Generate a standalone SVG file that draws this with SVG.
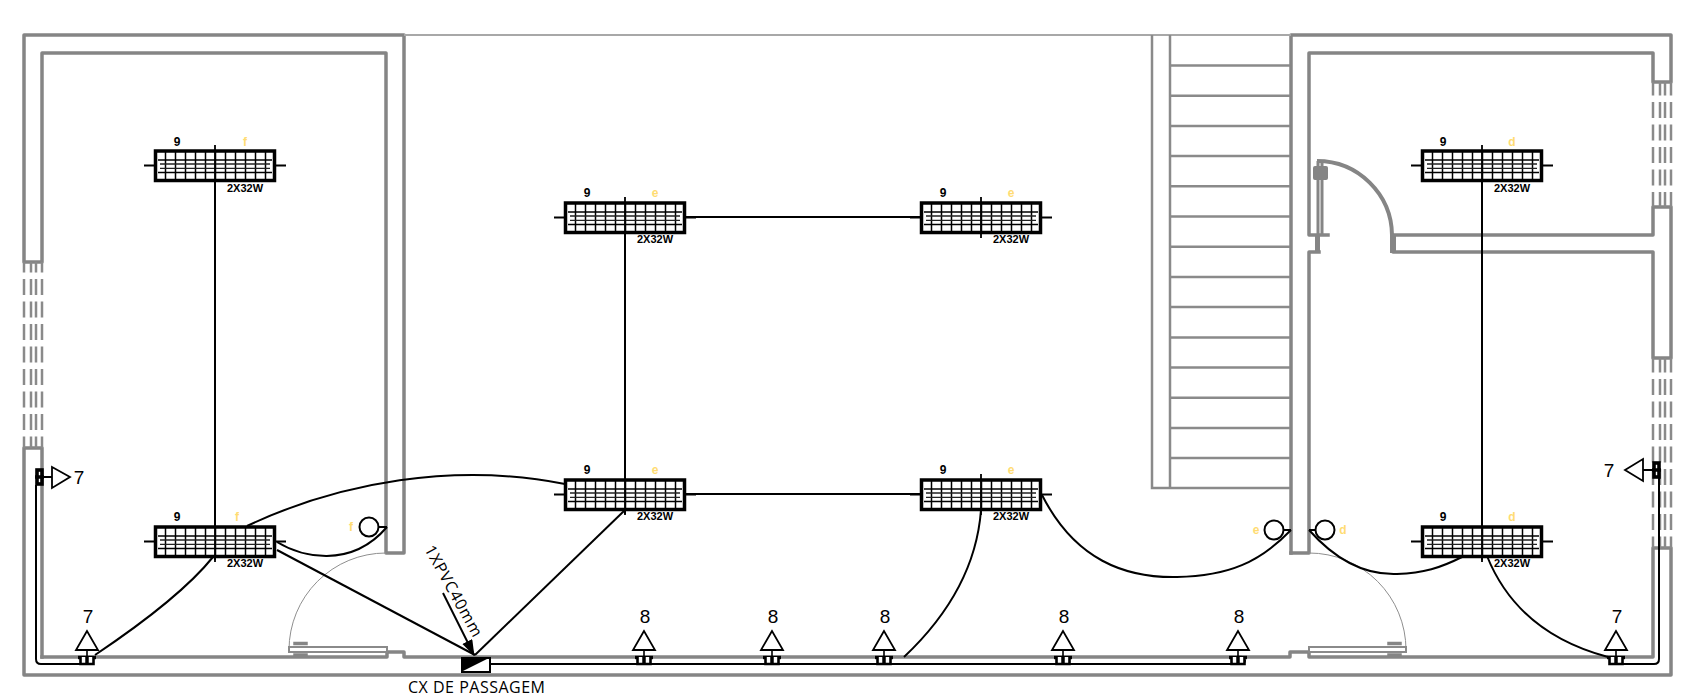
<svg xmlns="http://www.w3.org/2000/svg" width="1685" height="698" viewBox="0 0 1685 698">
<style>
.w{fill:none;stroke:#858585;stroke-width:3.5;stroke-linejoin:round;stroke-linecap:square}
.s{fill:none;stroke:#8a8a8a;stroke-width:2.5}
.t{fill:none;stroke:#a8a8a8;stroke-width:2}
.d{fill:none;stroke:#8a8a8a;stroke-width:2.5;stroke-dasharray:16 6.5}
.a{fill:none;stroke:#8f8f8f;stroke-width:1}
.l{fill:#fff;stroke:#8a8a8a;stroke-width:2}
.c{fill:none;stroke:#000;stroke-width:2}
.k{fill:none;stroke:#000;stroke-width:2}
.tr{fill:#fff;stroke:#000;stroke-width:1.8}
.n{font-family:"Liberation Sans",Arial,sans-serif;font-size:19px;fill:#000;text-anchor:middle}
.b{font-family:"Liberation Sans",Arial,sans-serif;font-size:11px;font-weight:bold;fill:#000;text-anchor:middle}
.nine{font-family:"Liberation Sans",Arial,sans-serif;font-size:12px;font-weight:bold;fill:#000;text-anchor:middle}
.y{font-family:"Liberation Sans",Arial,sans-serif;font-size:12px;font-weight:bold;fill:#ffdc73;text-anchor:middle}
.o{font-family:"Open Sans",sans-serif;font-size:16px;fill:#000}
</style>
<defs>
<g id="lum">
<rect x="0.5" y="1" width="119" height="29.5" fill="#fff" stroke="#000" stroke-width="3.5"/>
<path d="M10.5 2V29M20.5 2V29M30.5 2V29M40.5 2V29M50.5 2V29M60.5 2V29M70.5 2V29M80.5 2V29M90.5 2V29M100.5 2V29M110.5 2V29" stroke="#000" stroke-width="1.5" fill="none"/>
<path d="M3 10H117M3 22.5H117" stroke="#000" stroke-width="1.5" fill="none"/>
<path d="M5 14H115M5 18.3H115" stroke="#222" stroke-width="1.3" fill="none"/>
<path d="M-11 15.5H0M120 15.5H131M60 -5V36" stroke="#000" stroke-width="1.8" fill="none"/>
</g>
<g id="sock">
<path class="tr" d="M0 -26L-11 -7H11Z"/>
<path d="M0 -7V0" stroke="#000" stroke-width="1.6" fill="none"/>
<path d="M-9 0.5H9" stroke="#000" stroke-width="3.4" fill="none"/>
<path d="M-6.5 0V7H6.5V0" fill="#fff" stroke="#000" stroke-width="2.6"/>
<path d="M0 0V7" stroke="#000" stroke-width="3.5" fill="none"/>
</g>
<marker id="ah" markerUnits="userSpaceOnUse" markerWidth="16" markerHeight="22" refX="15" refY="5.5" orient="auto">
<path d="M0 0L16 5.5L0 11Z" fill="#000"/>
</marker>
</defs>
<rect width="1685" height="698" fill="#fff"/>
<g id="walls">
<path class="w" d="M24 262V35H404V553H386V53H42V262Z"/>
<path class="w" d="M42 657V448H24V675H1671V548H1653V657H1309V652H1290V657H1239"/>
<path class="w" d="M42 657H387V652H404V657H1240"/>
<path class="w" d="M1291 553V35H1671V82H1653V53H1309V235H1328"/>
<path class="w" d="M1291 553H1309V252H1319"/>
<path class="w" d="M1393 235H1653V207H1671V358H1653V252H1393Z"/>
<path class="t" d="M404 35H1291"/>
<path class="d" stroke-dashoffset="5.5" d="M24 262V448M31 262V448M36 262V448M42 262V448"/>
<path class="d" stroke-dashoffset="2.5" d="M1653 82V207M1660 82V207M1665 82V207M1671 82V207"/>
<path class="d" stroke-dashoffset="1.5" d="M1653 358V548M1660 358V548M1665 358V548M1671 358V548"/>
</g>
<g id="stairs">
<path class="s" d="M1152 35V488H1290M1170 35V488M1170 65.5H1290M1170 95.7H1290M1170 125.9H1290M1170 156H1290M1170 186.3H1290M1170 216.5H1290M1170 246.7H1290M1170 277H1290M1170 307H1290M1170 337.4H1290M1170 367.6H1290M1170 397.8H1290M1170 428H1290M1170 458H1290"/>
</g>
<g id="doors">
<path class="a" d="M289 650A97 97 0 0 1 386 553"/>
<rect class="l" x="289" y="647" width="98" height="5"/>
<path class="w" d="M295 643.5H306M295 655H306" stroke-width="2.5"/>
<path class="a" d="M1309 553A97 97 0 0 1 1406 650"/>
<rect class="l" x="1309" y="647" width="97" height="5"/>
<path class="w" d="M1389 643.5H1400M1389 655H1400" stroke-width="2.5"/>
<path fill="none" stroke="#858585" stroke-width="4" d="M1317 161A75 75 0 0 1 1392 235"/>
<path fill="none" stroke="#858585" stroke-width="3" d="M1318 161V235M1322 161V235"/>
<rect x="1313" y="166" width="15" height="14" rx="2" fill="#858585"/>
<rect x="1315" y="236" width="5" height="17" fill="#858585"/>
<rect x="1390" y="235" width="6" height="18" fill="#858585"/>
</g>
<g id="connectors">
<path class="c" d="M215 181V560"/>
<path class="c" d="M625 232V514"/>
<path class="c" d="M686 217H921"/>
<path class="c" d="M686 494H921"/>
<path class="c" d="M1482 181V560"/>
<path class="c" d="M247 526C340 482 455 462 565 484"/>
<path class="c" d="M277 542C300 556 350 570 387 527"/>
<path class="c" d="M277 550L475 655"/>
<path class="c" d="M625 510L475 655"/>
<path class="c" d="M213 557Q180 598 95 655"/>
<path class="c" d="M981 510Q975 590 904 657"/>
<path class="c" d="M1042 495C1075 560 1125 578 1177 577S1260 562 1291 530"/>
<path class="c" d="M1309 530C1340 565 1370 575 1397 574S1440 568 1462 557"/>
<path class="c" d="M1487 556Q1518 633 1608 657"/>
<path class="c" d="M491 664H1240Q1245 664 1245 660"/>
<path class="c" d="M36 485V659Q36 664 41 664H87"/>
<path class="c" d="M1616 664H1654Q1659 664 1659 659V478"/>
<path class="c" d="M443 593L474 655" marker-end="url(#ah)"/>
</g>
<g id="lum-a"><use href="#lum" x="155" y="150"/><text class="nine" x="177" y="146">9</text><text class="y" x="245" y="146">f</text><text class="b" x="245" y="192">2X32W</text></g>
<g id="lum-b"><use href="#lum" x="155" y="526"/><text class="nine" x="177" y="521">9</text><text class="y" x="237" y="521">f</text><text class="b" x="245" y="567">2X32W</text></g>
<g id="lum-c"><use href="#lum" x="565" y="202"/><text class="nine" x="587" y="197">9</text><text class="y" x="655" y="197">e</text><text class="b" x="655" y="243">2X32W</text></g>
<g id="lum-d"><use href="#lum" x="921" y="202"/><text class="nine" x="943" y="197">9</text><text class="y" x="1011" y="197">e</text><text class="b" x="1011" y="243">2X32W</text></g>
<g id="lum-e"><use href="#lum" x="565" y="479"/><text class="nine" x="587" y="474">9</text><text class="y" x="655" y="474">e</text><text class="b" x="655" y="520">2X32W</text></g>
<g id="lum-f"><use href="#lum" x="921" y="479"/><text class="nine" x="943" y="474">9</text><text class="y" x="1011" y="474">e</text><text class="b" x="1011" y="520">2X32W</text></g>
<g id="lum-g"><use href="#lum" x="1422" y="150"/><text class="nine" x="1443" y="146">9</text><text class="y" x="1512" y="146">d</text><text class="b" x="1512" y="192">2X32W</text></g>
<g id="lum-h"><use href="#lum" x="1422" y="526"/><text class="nine" x="1443" y="521">9</text><text class="y" x="1512" y="521">d</text><text class="b" x="1512" y="567">2X32W</text></g>
<g id="switch-f"><circle class="k" cx="369" cy="527" r="9.5"/><path class="k" d="M378 527H387"/><text class="y" x="351" y="531">f</text></g>
<g id="switch-e"><circle class="k" cx="1274" cy="530" r="9.5"/><path class="k" d="M1283 530H1291"/><text class="y" x="1256" y="534">e</text></g>
<g id="switch-d"><circle class="k" cx="1325" cy="530" r="9.5"/><path class="k" d="M1309 530H1316"/><text class="y" x="1343" y="534">d</text></g>
<g id="sock-1"><use href="#sock" x="87" y="657"/><text class="n" x="88" y="623">7</text></g>
<g id="sock-2"><use href="#sock" x="644" y="657"/><text class="n" x="645" y="623">8</text></g>
<g id="sock-3"><use href="#sock" x="772" y="657"/><text class="n" x="773" y="623">8</text></g>
<g id="sock-4"><use href="#sock" x="884" y="657"/><text class="n" x="885" y="623">8</text></g>
<g id="sock-5"><use href="#sock" x="1063" y="657"/><text class="n" x="1064" y="623">8</text></g>
<g id="sock-6"><use href="#sock" x="1238" y="657"/><text class="n" x="1239" y="623">8</text></g>
<g id="sock-7"><use href="#sock" x="1616" y="657"/><text class="n" x="1617" y="623">7</text></g>
<g id="sock-8"><path class="tr" d="M70 477L52 467V488Z"/><path class="k" d="M43 477H52"/><rect x="37" y="470" width="5" height="14" fill="#fff" stroke="#000" stroke-width="3.6"/><path d="M35 477H44" stroke="#000" stroke-width="3.5"/><text class="n" x="79" y="484">7</text></g>
<g id="sock-9"><path class="tr" d="M1625 470L1643 459V481Z"/><path class="k" d="M1643 470H1652"/><rect x="1654" y="463" width="5" height="14" fill="#fff" stroke="#000" stroke-width="3.6"/><path d="M1652 470H1661" stroke="#000" stroke-width="3.5"/><text class="n" x="1609" y="477">7</text></g>
<g id="cx">
<rect x="462" y="658" width="28" height="14" fill="#fff" stroke="#000" stroke-width="2"/>
<path d="M461 657H491L461 672Z" fill="#000"/>
<text class="o" x="408" y="693" textLength="137">CX DE PASSAGEM</text>
<text class="o" x="0" y="0" textLength="102" transform="translate(424 549) rotate(61)">1XPVC40mm</text>
</g>
</svg>
